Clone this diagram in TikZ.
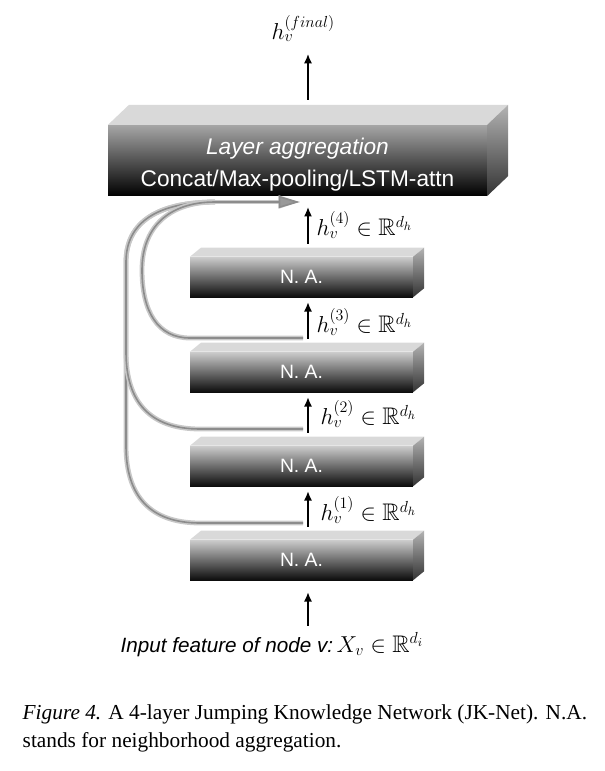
\documentclass[tikz,border=0pt]{standalone}
\usepackage{fontspec}
\usepackage{amsmath,amssymb}
\setmainfont{Liberation Serif}
\setsansfont{Liberation Sans}
\usetikzlibrary{arrows.meta,positioning,calc}
\definecolor{FaceTop}{HTML}{D9D9D9}
\definecolor{TubeEdge}{HTML}{C8C8C8}
\definecolor{TubeCore}{HTML}{8C8C8C}

% top and right faces of a block, drawn beside its front node
\newcommand{\blockfaces}[3]{%
  \fill[FaceTop] (#1.north west) -- ++(#2,#3) -- ($(#1.north east)+(#2,#3)$) -- (#1.north east) -- cycle;
  \shade[top color=black!30, bottom color=black!80] (#1.north east) -- ++(#2,#3) -- ($(#1.south east)+(#2,#3)$) -- (#1.south east) -- cycle;
}

\begin{document}
\begin{tikzpicture}[
  x=0.75pt, y=-0.75pt,
  layer/.style={rectangle, minimum width=167pt, minimum height=30pt, inner sep=0pt,
    top color=black!20, middle color=black!55, bottom color=black!95,
    text=white, font=\sffamily\fontsize{14.5}{16}\selectfont},
  aggbox/.style={rectangle, minimum width=284pt, minimum height=53pt, inner sep=0pt,
    top color=black!35, middle color=black!60, bottom color=black,
    text=white, align=center, font=\sffamily\fontsize{17}{24}\selectfont},
  lbl/.style={anchor=west, inner sep=1pt, font=\fontsize{18}{20}\selectfont},
  flow/.style={-{Latex[length=7pt,width=6pt]}, line width=1pt, shorten <=9.75pt, shorten >=3.75pt},
  jump/.style={draw=TubeCore, line width=1.2pt, preaction={draw=TubeEdge, line width=3.6pt}},
  jumptip/.style={-{Triangle[length=16pt,width=9pt,fill=black!40]}}
]
\useasboundingbox (0,0) rectangle (605,771);

\coordinate (spine) at (308,0);

% aggregation block
\node[aggbox] (agg) at (297.5,160.5) {\rule{0pt}{19pt}\textit{Layer aggregation}\\Concat/Max-pooling/LSTM-attn};
\blockfaces{agg}{21}{-20}

% neighborhood aggregation layers
\foreach \i/\y in {1/560,2/466,3/372,4/277}{
  \node[layer] (na\i) at (301.5,\y) {N. A.};
  \blockfaces{na\i}{11}{-9}
}

\node[anchor=base west, inner sep=1pt, font=\fontsize{18}{20}\selectfont] (out) at (270,39) {$h_v^{(final)}$};
\node[anchor=base west, inner sep=1pt, font=\sffamily\itshape\fontsize{15.5}{18}\selectfont] (inp) at (119,652)
  {Input feature of node v:\,{\fontsize{18}{20}\selectfont$X_v \in \mathbb{R}^{d_i}$}};

% arrows along the stack
\draw[flow, shorten <=4pt, shorten >=9pt] (inp.north -| spine) -- (na1.south -| spine);
\draw[flow] (na1.north -| spine) -- (na2.south -| spine);
\draw[flow] (na2.north -| spine) -- (na3.south -| spine);
\draw[flow] (na3.north -| spine) -- (na4.south -| spine);
\draw[flow, shorten >=8.25pt] (na4.north -| spine) -- (agg.south -| spine);
\draw[flow, shorten <=18.75pt, shorten >=8pt] (agg.north -| spine) -- (out.south -| spine);

\node[lbl] (h1) at (319,510) {$h_v^{(1)} \in \mathbb{R}^{d_h}$};
\node[lbl] (h2) at (319,414) {$h_v^{(2)} \in \mathbb{R}^{d_h}$};
\node[lbl] (h3) at (315,322) {$h_v^{(3)} \in \mathbb{R}^{d_h}$};
\node[lbl] (h4) at (315,225) {$h_v^{(4)} \in \mathbb{R}^{d_h}$};

% jumping connections
\coordinate (j1) at (303,523);
\coordinate (j2) at (303,429);
\coordinate (j3) at (303,338);
\coordinate (jm) at (215,202);
\coordinate (jin) at (300,202);
\draw[jump] (j1) -- (200,523) .. controls (150,523) and (126,496) .. (126,446) -- (126,262)
  .. controls (126,222) and (158,202) .. (jm);
\draw[jump] (j2) -- (200,429) .. controls (150,429) and (126,402) .. (126,352) -- (126,262)
  .. controls (126,222) and (158,202) .. (jm);
\draw[jump] (j3) -- (190,338) .. controls (158,338) and (142,312) .. (142,270)
  .. controls (142,228) and (168,202) .. (jm);
\draw[jump, jumptip] (jm) -- (jin);

\node[anchor=north west, align=left, font=\fontsize{16}{21}\selectfont] (cap) at (18,700)
  {\textit{Figure 4.} A 4-layer Jumping Knowledge Network (JK-Net). N.A.\\
   stands for neighborhood aggregation.};
\end{tikzpicture}
\end{document}
